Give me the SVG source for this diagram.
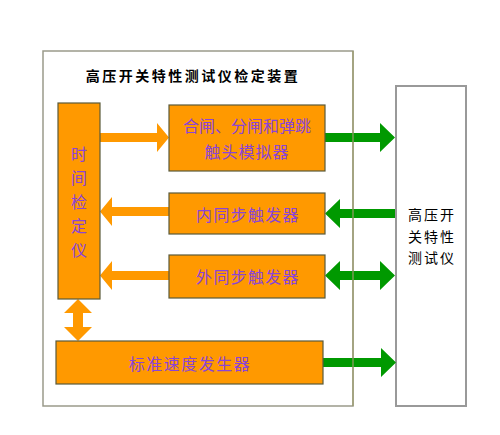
<svg xmlns="http://www.w3.org/2000/svg" width="500" height="435" viewBox="0 0 500 435">
<style>
.box{fill:#ff9900;stroke:#5a5a3a;stroke-width:1.2}
.frame{fill:none;stroke:#9a9a8a;stroke-width:1.5}
.rframe{fill:#ffffff;stroke:#999999;stroke-width:2}
.t{font-family:"Noto Sans CJK SC","Noto Sans CJK JP",sans-serif;font-size:16px;fill:#8a44d8;text-anchor:middle;dominant-baseline:central}
.k{font-family:"Noto Sans CJK SC","Noto Sans CJK JP",sans-serif;font-size:14px;fill:#000000;text-anchor:middle;dominant-baseline:central}
.g{fill:#009900}
.o{fill:#ff9900}
</style>
<rect width="500" height="435" fill="#ffffff"/>
<g id="device">
<rect class="frame" x="43" y="51" width="310" height="355"/>
<text class="k" x="193" y="75" font-weight="bold" letter-spacing="2.5">高压开关特性测试仪检定装置</text>
</g>
<g id="tester">
<rect class="rframe" x="396" y="86" width="70" height="320"/>
<text class="k" x="432" y="214" letter-spacing="2">高压开</text>
<text class="k" x="432" y="236" letter-spacing="2">关特性</text>
<text class="k" x="432" y="257" letter-spacing="2">测试仪</text>
</g>
<g id="connectors">
<polygon class="o" points="100,133 157,133 157,123 169,137.5 157,152 157,142 100,142"/>
<polygon class="o" points="169,207 112,207 112,197 100,211.5 112,226 112,216 169,216"/>
<polygon class="o" points="169,271 112,271 112,261 100,275.5 112,290 112,280 169,280"/>
<polygon class="o" points="78,299 92,313 83,313 83,327 92,327 78,341 64,327 73,327 73,313 64,313"/>
<polygon class="g" points="325,133 380,133 380,123 395,137.5 380,152 380,142 325,142"/>
<polygon class="g" points="395,209 340,209 340,199 325,213.5 340,228 340,218 395,218"/>
<polygon class="g" points="325,275.5 340,261 340,271 380,271 380,261 395,275.5 380,290 380,280 340,280 340,290"/>
<polygon class="g" points="323,358 381,358 381,348 396,362.5 381,377 381,367 323,367"/>
<line x1="353" y1="51" x2="353" y2="406" stroke="#9a9a6a" stroke-width="1.2"/>
</g>
<g id="timer">
<rect class="box" x="58" y="103" width="42" height="196"/>
<text class="t" x="79" y="153" font-size="17">时</text>
<text class="t" x="79" y="177" font-size="17">间</text>
<text class="t" x="79" y="201" font-size="17">检</text>
<text class="t" x="79" y="225" font-size="17">定</text>
<text class="t" x="79" y="249" font-size="17">仪</text>
</g>
<g id="simulator">
<rect class="box" x="169" y="105" width="156" height="66"/>
<text class="t" x="247" y="125">合闸、分闸和弹跳</text>
<text class="t" x="247" y="151" letter-spacing="1">触头模拟器</text>
</g>
<g id="inner-trigger">
<rect class="box" x="169" y="193" width="156" height="41"/>
<text class="t" x="248" y="213.5" letter-spacing="1.3">内同步触发器</text>
</g>
<g id="outer-trigger">
<rect class="box" x="169" y="255" width="156" height="43"/>
<text class="t" x="248" y="275.5" letter-spacing="1.3">外同步触发器</text>
</g>
<g id="speed-generator">
<rect class="box" x="56" y="341" width="267" height="43"/>
<text class="t" x="190" y="363" letter-spacing="1.5">标准速度发生器</text>
</g>
</svg>
